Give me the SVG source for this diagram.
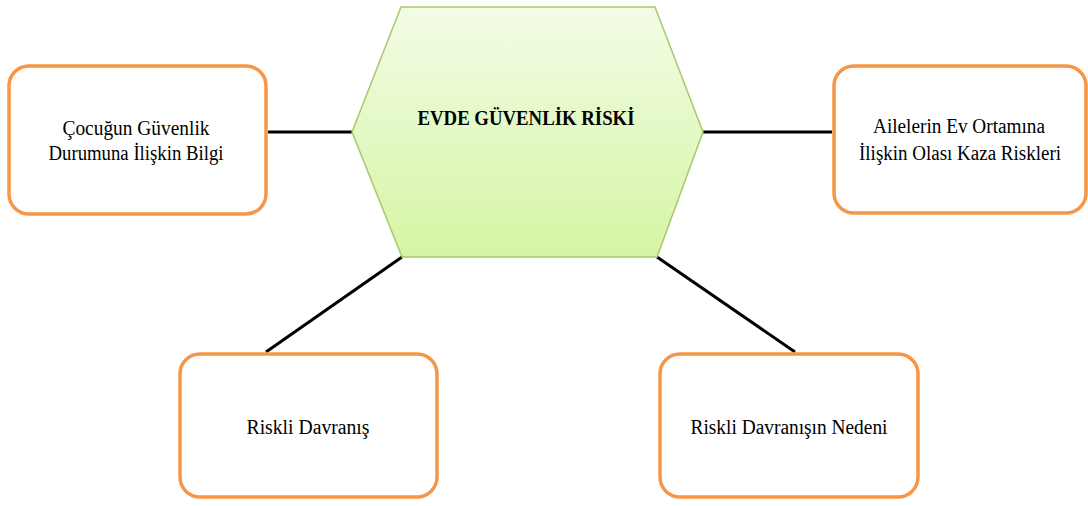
<svg xmlns="http://www.w3.org/2000/svg" width="1088" height="506" viewBox="0 0 1088 506">
<style>
.box{fill:#ffffff;stroke:#F79646;stroke-width:3.5}
.lbl{font-family:"Liberation Serif","DejaVu Serif","Times New Roman",serif;font-size:20px;fill:#000;text-anchor:middle}
.title{font-family:"Liberation Serif","DejaVu Serif","Times New Roman",serif;font-size:22px;font-weight:bold;fill:#000;text-anchor:middle}
.conn{stroke:#000;stroke-width:3;fill:none}
</style>
<defs>
<linearGradient id="hexg" x1="0" y1="0" x2="0" y2="1">
<stop offset="0" stop-color="#F3FCE6"/>
<stop offset="1" stop-color="#D5F5A3"/>
</linearGradient>
</defs>
<rect width="1088" height="506" fill="#ffffff"/>
<g id="connectors">
<line class="conn" x1="268" y1="132" x2="352" y2="132"/>
<line class="conn" x1="703" y1="132" x2="832" y2="132"/>
<line class="conn" x1="402" y1="257" x2="266" y2="352"/>
<line class="conn" x1="657" y1="257" x2="795" y2="352"/>
</g>
<g id="center">
<polygon points="401,7 655,7 703,132 657,257 402,257 352,132" fill="url(#hexg)" stroke="#A8C76E" stroke-width="1.5"/>
<text class="title" x="526" y="125" textLength="217" lengthAdjust="spacingAndGlyphs">EVDE GÜVENLİK RİSKİ</text>
</g>
<g id="node-left">
<rect class="box" x="9" y="66" width="257" height="148" rx="20"/>
<text class="lbl" x="136" y="135" textLength="147" lengthAdjust="spacingAndGlyphs">Çocuğun Güvenlik</text>
<text class="lbl" x="136" y="160" textLength="175" lengthAdjust="spacingAndGlyphs">Durumuna İlişkin Bilgi</text>
</g>
<g id="node-right">
<rect class="box" x="834" y="66" width="252" height="147" rx="20"/>
<text class="lbl" x="959" y="133" textLength="172" lengthAdjust="spacingAndGlyphs">Ailelerin  Ev Ortamına</text>
<text class="lbl" x="960" y="160" textLength="202" lengthAdjust="spacingAndGlyphs">İlişkin Olası Kaza Riskleri</text>
</g>
<g id="node-bottom-left">
<rect class="box" x="180" y="354" width="257" height="143" rx="20"/>
<text class="lbl" x="308" y="434" textLength="123" lengthAdjust="spacingAndGlyphs">Riskli Davranış</text>
</g>
<g id="node-bottom-right">
<rect class="box" x="660" y="354" width="258" height="143" rx="20"/>
<text class="lbl" x="789" y="434" textLength="197" lengthAdjust="spacingAndGlyphs">Riskli Davranışın Nedeni</text>
</g>
</svg>
